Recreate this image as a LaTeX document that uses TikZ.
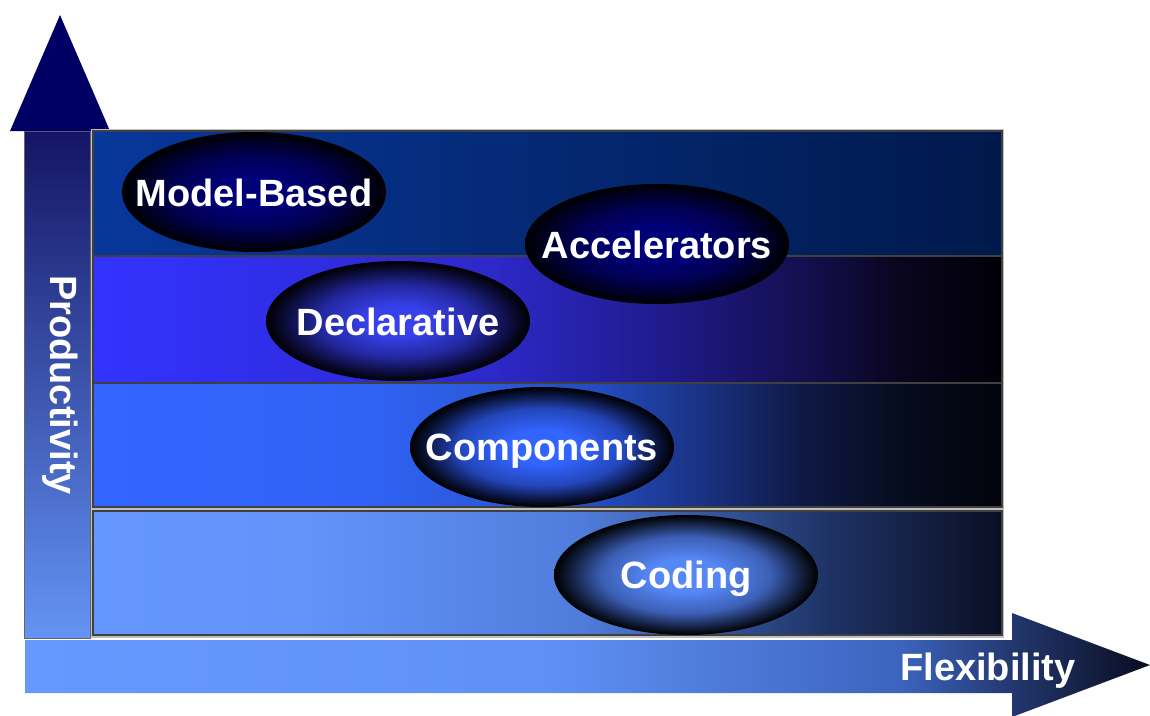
\documentclass[tikz,border=0pt]{standalone}
\usepackage{fontspec}
\setmainfont{Liberation Sans}
\usetikzlibrary{shapes.geometric}

% band colours
\definecolor{aA}{RGB}{8,55,155}
\definecolor{aB}{RGB}{4,40,115}
\definecolor{aC}{RGB}{0,25,75}
\definecolor{bA}{RGB}{51,51,255}
\definecolor{bB}{RGB}{48,45,230}
\definecolor{bC}{RGB}{45,40,200}
\definecolor{bD}{RGB}{32,28,145}
\definecolor{bE}{RGB}{20,15,80}
\definecolor{bF}{RGB}{10,5,30}
\definecolor{bG}{RGB}{0,0,8}
\definecolor{cA}{RGB}{51,102,255}
\definecolor{cB}{RGB}{48,98,245}
\definecolor{cC}{RGB}{42,88,215}
\definecolor{cD}{RGB}{35,75,190}
\definecolor{cE}{RGB}{25,50,130}
\definecolor{cF}{RGB}{15,25,70}
\definecolor{cG}{RGB}{6,12,30}
\definecolor{cH}{RGB}{2,4,12}
\definecolor{dA}{RGB}{100,150,255}
\definecolor{dB}{RGB}{98,148,250}
\definecolor{dC}{RGB}{80,125,220}
\definecolor{dD}{RGB}{30,50,100}
\definecolor{dE}{RGB}{10,15,35}
% arrows
\definecolor{hA}{RGB}{102,153,255}
\definecolor{hB}{RGB}{95,145,245}
\definecolor{hC}{RGB}{60,100,190}
\definecolor{hD}{RGB}{35,55,110}
\definecolor{hE}{RGB}{8,12,30}
\definecolor{vtop}{RGB}{20,20,100}
\definecolor{vbot}{RGB}{100,148,245}
\definecolor{vhead}{RGB}{0,0,100}
% ellipse centres and their darker rings
\definecolor{eNavy}{RGB}{0,0,120}
\definecolor{eNavyM}{RGB}{0,0,80}
\definecolor{eNavyD}{RGB}{0,0,30}
\definecolor{eMid}{RGB}{55,65,235}
\definecolor{eMidM}{RGB}{35,40,160}
\definecolor{eMidD}{RGB}{10,10,50}
\definecolor{eBright}{RGB}{50,100,255}
\definecolor{eBrightM}{RGB}{35,70,185}
\definecolor{eBrightD}{RGB}{10,20,60}
\definecolor{eLight}{RGB}{85,135,245}
\definecolor{eLightM}{RGB}{60,95,180}
\definecolor{eLightD}{RGB}{18,30,60}

\pgfdeclarehorizontalshading{bandA}{100bp}{color(0bp)=(aA); color(25bp)=(aA); color(50bp)=(aB); color(75bp)=(aC); color(100bp)=(aC)}
\pgfdeclarehorizontalshading{bandB}{100bp}{color(0bp)=(bA); color(25bp)=(bA); color(36bp)=(bB); color(47bp)=(bC); color(55.6bp)=(bD); color(63.9bp)=(bE); color(69.4bp)=(bF); color(75bp)=(bG); color(100bp)=(bG)}
\pgfdeclarehorizontalshading{bandC}{100bp}{color(0bp)=(cA); color(25bp)=(cA); color(40bp)=(cB); color(47.4bp)=(cC); color(52.9bp)=(cD); color(58.4bp)=(cE); color(63.9bp)=(cF); color(69.4bp)=(cG); color(75bp)=(cH); color(100bp)=(cH)}
\pgfdeclarehorizontalshading{bandD}{100bp}{color(0bp)=(dA); color(25bp)=(dA); color(36bp)=(dB); color(51.7bp)=(dC); color(65.5bp)=(dD); color(75bp)=(dE); color(100bp)=(dE)}
\pgfdeclarehorizontalshading{harrow}{100bp}{color(0bp)=(hA); color(25bp)=(hA); color(48bp)=(hB); color(63.9bp)=(hC); color(68.9bp)=(hD); color(75bp)=(hE); color(100bp)=(hE)}
\pgfdeclareradialshading{ellNavy}{\pgfpoint{0bp}{0bp}}{color(0bp)=(eNavy); color(7bp)=(eNavy); color(16bp)=(eNavyM); color(22bp)=(eNavyD); color(25bp)=(black); color(50bp)=(black)}
\pgfdeclareradialshading{ellMid}{\pgfpoint{0bp}{0bp}}{color(0bp)=(eMid); color(6bp)=(eMid); color(15bp)=(eMidM); color(22bp)=(eMidD); color(25bp)=(black); color(50bp)=(black)}
\pgfdeclareradialshading{ellBright}{\pgfpoint{0bp}{0bp}}{color(0bp)=(eBright); color(7bp)=(eBright); color(16bp)=(eBrightM); color(22bp)=(eBrightD); color(25bp)=(black); color(50bp)=(black)}
\pgfdeclareradialshading{ellLight}{\pgfpoint{0bp}{0bp}}{color(0bp)=(eLight); color(7bp)=(eLight); color(16bp)=(eLightM); color(22bp)=(eLightD); color(25bp)=(black); color(50bp)=(black)}

\tikzset{
  bubble/.style={ellipse, minimum width=264pt, minimum height=120pt, inner sep=0pt},
  lbl/.style={text=white, font=\bfseries\fontsize{38}{40}\selectfont, inner sep=0pt},
  blbl/.style={lbl, anchor=base},
  band/.style={draw=black!75, line width=1.2pt},
}

\begin{document}
\begin{tikzpicture}[x=1pt,y=-1pt]
\useasboundingbox (0,0) rectangle (1150,715);
\fill[white] (0,0) rectangle (1150,715);

% horizontal axis arrow
\shade[shading=harrow] (25,640) -- (1012,640) -- (1012,613) -- (1150,665) -- (1012,717) -- (1012,693) -- (25,693) -- cycle;
\node[blbl] (flex) at (988,680) {Flexibility};

% vertical axis arrow
\shade[top color=vtop, bottom color=vbot, draw=black!60, line width=1pt] (24,131) rectangle (90,638);
\fill[vhead] (10,131) -- (110,131) -- (60,15) -- cycle;
\node[lbl, rotate=-90] (prod) at (60,385) {Productivity};

% frame and bands
\fill[black!25] (91,129) rectangle (1004,638);
\shade[shading=bandA, band] (93,131) rectangle (1002,256);
\shade[shading=bandB, band] (93,256) rectangle (1002,383);
\shade[shading=bandC, band] (93,383) rectangle (1002,507);
\shade[shading=bandD, band] (93,511) rectangle (1002,635);

% bubbles
\node[bubble, shading=ellNavy] (mb) at (254,192) {};
\node[blbl] at ([yshift=-14pt]mb.center) {Model-Based};
\node[bubble, shading=ellNavy] (acc) at (657,244) {};
\node[blbl] at ([yshift=-14pt]acc.center) {Accelerators};
\node[bubble, shading=ellMid] (dec) at (398,321) {};
\node[blbl] at ([yshift=-14pt]dec.center) {Declarative};
\node[bubble, shading=ellBright] (comp) at (542,447) {};
\node[blbl] at ([yshift=-13pt]comp.center) {Components};
\node[bubble, shading=ellLight] (cod) at (686,575) {};
\node[blbl] at ([yshift=-13pt]cod.center) {Coding};
\end{tikzpicture}
\end{document}
